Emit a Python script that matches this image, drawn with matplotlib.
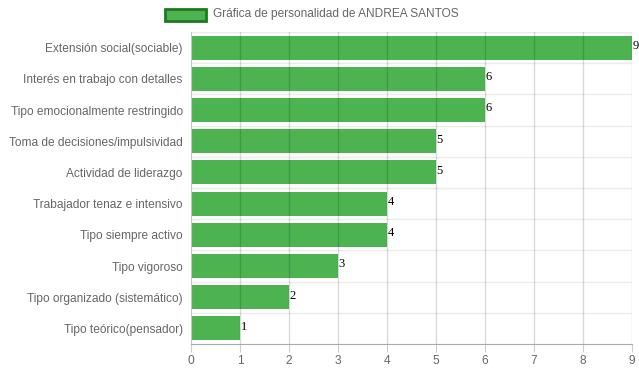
import matplotlib.pyplot as plt
from matplotlib.patches import Rectangle

# datos
categorias = [
    "Extensión social(sociable)",
    "Interés en trabajo con detalles",
    "Tipo emocionalmente restringido",
    "Toma de decisiones/impulsividad",
    "Actividad de liderazgo",
    "Trabajador tenaz e intensivo",
    "Tipo siempre activo",
    "Tipo vigoroso",
    "Tipo organizado (sistemático)",
    "Tipo teórico(pensador)",
]
valores = [9, 6, 6, 5, 5, 4, 4, 3, 2, 1]
titulo_leyenda = "Gráfica de personalidad de ANDREA SANTOS"

verde = "#4CB350"
gris_txt = "#666666"
plt.rcParams["font.family"] = ["Liberation Sans", "DejaVu Sans"]

fig = plt.figure(figsize=(6.39, 3.72), dpi=100)
ax = fig.add_axes([191 / 639, 28 / 372, 441 / 639, 312 / 372])

pos = list(range(len(categorias)))
ax.barh(pos, valores, height=0.77, color=verde, edgecolor="none", zorder=2)

for p, v in zip(pos, valores):
    ax.text(v + 0.01, p - 0.05, str(v), family="Liberation Serif", fontsize=9,
            color="black", va="center", ha="left", zorder=4)

ax.set_xlim(0, 9)
ax.set_ylim(len(categorias) - 0.5, -0.5)
ax.set_xticks(range(10))
ax.set_yticks(pos)
ax.set_yticklabels(categorias)

# rejilla estilo chart.js
for x in range(1, 10):
    ax.axvline(x, color="black", alpha=0.15, lw=1, zorder=3)
for y in range(0, len(categorias)):
    ax.axhline(y - 0.5, color="#ececec", lw=1, zorder=1)

for s in ["top", "right"]:
    ax.spines[s].set_visible(False)
ax.spines["left"].set_color("#c4c4c4")
ax.spines["bottom"].set_color("#aaaaaa")

ax.tick_params(axis="x", colors="#cccccc", labelcolor=gris_txt, labelsize=8.6, length=6, pad=2)
ax.tick_params(axis="y", length=0, labelcolor=gris_txt, labelsize=8.6, pad=6)

# leyenda
fig.patches.append(Rectangle((165 / 639, 1 - 21 / 372), 41 / 639, 12 / 372,
                             transform=fig.transFigure, facecolor=verde,
                             edgecolor="#1e7a1e", lw=2))
fig.text(213 / 639, 1 - 14 / 372, titulo_leyenda, fontsize=8.6, color=gris_txt, va="center")

fig.savefig("out.png", dpi=100)
